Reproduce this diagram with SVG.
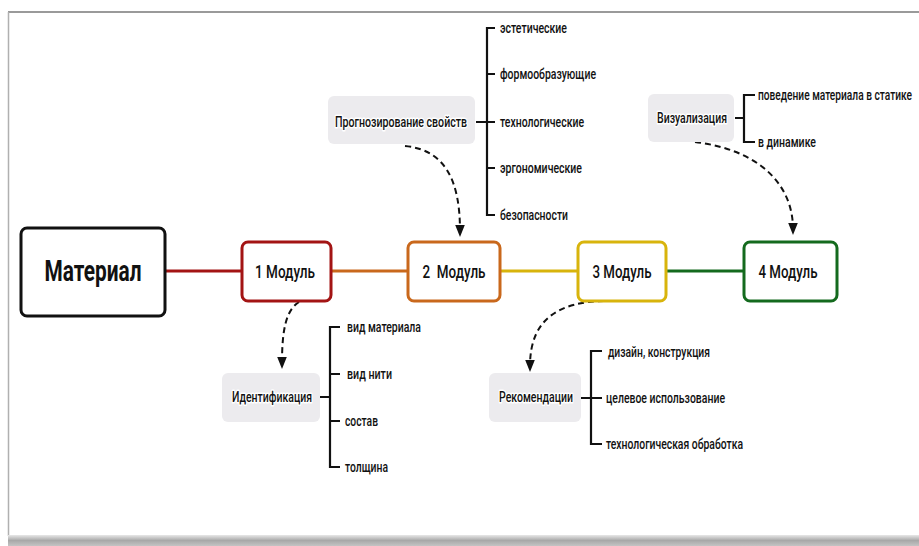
<svg xmlns="http://www.w3.org/2000/svg" width="919" height="546" viewBox="0 0 919 546">
<defs>
<linearGradient id="shadow" x1="0" y1="0" x2="0" y2="1">
<stop offset="0" stop-color="#e8e8e8"/>
<stop offset="0.5" stop-color="#a8a8a8"/>
<stop offset="1" stop-color="#c4c4c4"/>
</linearGradient>
<marker id="arr" viewBox="0 0 10 10" refX="5" refY="5" markerWidth="6" markerHeight="6" orient="auto">
<path d="M0,1 L10,5 L0,9 z" fill="#111"/>
</marker>
<style>
text{font-family:Roboto,"Liberation Sans",sans-serif;fill:#111;}
.mod{fill:#fff;stroke-width:3;}
.mt{font-size:19px;font-weight:500;text-anchor:middle;dominant-baseline:central;}
.gb{fill:#ecebee;}
.gt{font-size:15.5px;font-weight:500;text-anchor:middle;dominant-baseline:central;stroke:#fff;stroke-width:3;paint-order:stroke;stroke-linejoin:round;}
.it{font-size:15.5px;font-weight:500;dominant-baseline:central;}
.br{fill:none;stroke:#111;stroke-width:2.2;}
.dash{fill:none;stroke:#111;stroke-width:2;stroke-dasharray:6 4;marker-end:url(#arr);}
.ln{stroke-width:3;}
</style>
</defs>
<rect x="0" y="0" width="919" height="546" fill="#fff"/>
<g id="frame">
<line x1="8" y1="12" x2="919" y2="12" stroke="#9a9a9a" stroke-width="2"/>
<line x1="8.5" y1="12" x2="8.5" y2="536" stroke="#b0b0b0" stroke-width="1.5"/>
<rect x="8" y="535" width="911" height="11" fill="url(#shadow)"/>
</g>
<g id="connectors">
<line class="ln" x1="166" y1="271" x2="241" y2="271" stroke="#a31414"/>
<line class="ln" x1="332" y1="271" x2="407" y2="271" stroke="#c9681c"/>
<line class="ln" x1="501" y1="271" x2="577" y2="271" stroke="#d8b40c"/>
<line class="ln" x1="667" y1="271" x2="743" y2="271" stroke="#146a1e"/>
<path class="dash" d="M405,146 C445,150 460,180 460,231"/>
<path class="dash" d="M695,142 C760,150 793,185 793,229"/>
<path class="dash" d="M299,302 C286,310 282,330 282,363"/>
<path class="dash" d="M604,301 C560,302 530,318 530,366"/>
<path class="br" d="M476,122 H495 M495,28 H487 V215 H495 M487,74 H495 M487,168 H495"/>
<path class="br" d="M735,118 H744 M755,95 H744 V142 H755"/>
<path class="br" d="M320,397 H330 M340,327 H330 V467 H340 M330,374 H340 M330,421 H340"/>
<path class="br" d="M581,398 H602 M602,351 H591 V444 H602"/>
</g>
<g id="material">
<rect x="21" y="228" width="144" height="88" rx="6" fill="#fff" stroke="#111" stroke-width="3"/>
<text x="93" y="271" font-size="29" font-weight="bold" text-anchor="middle" dominant-baseline="central" textLength="97" lengthAdjust="spacingAndGlyphs">Материал</text>
</g>
<g id="m1">
<rect class="mod" x="242" y="242" width="89" height="59" rx="6" stroke="#a31414"/>
<text class="mt" x="285" y="271" textLength="60" lengthAdjust="spacingAndGlyphs">1 Модуль</text>
</g>
<g id="m2">
<rect class="mod" x="408" y="242" width="92" height="59" rx="6" stroke="#c9681c"/>
<text class="mt" x="454" y="271" textLength="63" lengthAdjust="spacingAndGlyphs" xml:space="preserve">2  Модуль</text>
</g>
<g id="m3">
<rect class="mod" x="578" y="242" width="88" height="59" rx="6" stroke="#d8b40c"/>
<text class="mt" x="622" y="271" textLength="59" lengthAdjust="spacingAndGlyphs">3 Модуль</text>
</g>
<g id="m4">
<rect class="mod" x="744" y="242" width="93" height="59" rx="6" stroke="#146a1e"/>
<text class="mt" x="788" y="271" textLength="59" lengthAdjust="spacingAndGlyphs">4 Модуль</text>
</g>
<g id="prognoz">
<rect class="gb" x="328" y="96" width="147" height="48" rx="6"/>
<text class="gt" x="401" y="122" textLength="132" lengthAdjust="spacingAndGlyphs">Прогнозирование свойств</text>
<text class="it" x="500" y="28" textLength="67" lengthAdjust="spacingAndGlyphs">эстетические</text>
<text class="it" x="500" y="74" textLength="96" lengthAdjust="spacingAndGlyphs">формообразующие</text>
<text class="it" x="500" y="122" textLength="84" lengthAdjust="spacingAndGlyphs">технологические</text>
<text class="it" x="500" y="168" textLength="82" lengthAdjust="spacingAndGlyphs">эргономические</text>
<text class="it" x="500" y="215" textLength="68" lengthAdjust="spacingAndGlyphs">безопасности</text>
</g>
<g id="vizual">
<rect class="gb" x="648" y="94" width="86" height="48" rx="6"/>
<text class="gt" x="692" y="118" textLength="70" lengthAdjust="spacingAndGlyphs">Визуализация</text>
<text class="it" x="758" y="95" textLength="154" lengthAdjust="spacingAndGlyphs">поведение материала в статике</text>
<text class="it" x="758" y="142" textLength="58" lengthAdjust="spacingAndGlyphs">в динамике</text>
</g>
<g id="ident">
<rect class="gb" x="222" y="373" width="98" height="49" rx="6"/>
<text class="gt" x="272" y="397" textLength="80" lengthAdjust="spacingAndGlyphs">Идентификация</text>
<text class="it" x="347" y="327" textLength="74" lengthAdjust="spacingAndGlyphs">вид материала</text>
<text class="it" x="347" y="374" textLength="45" lengthAdjust="spacingAndGlyphs">вид нити</text>
<text class="it" x="345" y="421" textLength="33" lengthAdjust="spacingAndGlyphs">состав</text>
<text class="it" x="345" y="467" textLength="43" lengthAdjust="spacingAndGlyphs">толщина</text>
</g>
<g id="rekom">
<rect class="gb" x="489" y="373" width="92" height="49" rx="6"/>
<text class="gt" x="536" y="397" textLength="74" lengthAdjust="spacingAndGlyphs">Рекомендации</text>
<text class="it" x="608" y="352" textLength="102" lengthAdjust="spacingAndGlyphs">дизайн, конструкция</text>
<text class="it" x="606" y="398" textLength="119" lengthAdjust="spacingAndGlyphs">целевое использование</text>
<text class="it" x="606" y="444" textLength="137" lengthAdjust="spacingAndGlyphs">технологическая обработка</text>
</g>
</svg>
